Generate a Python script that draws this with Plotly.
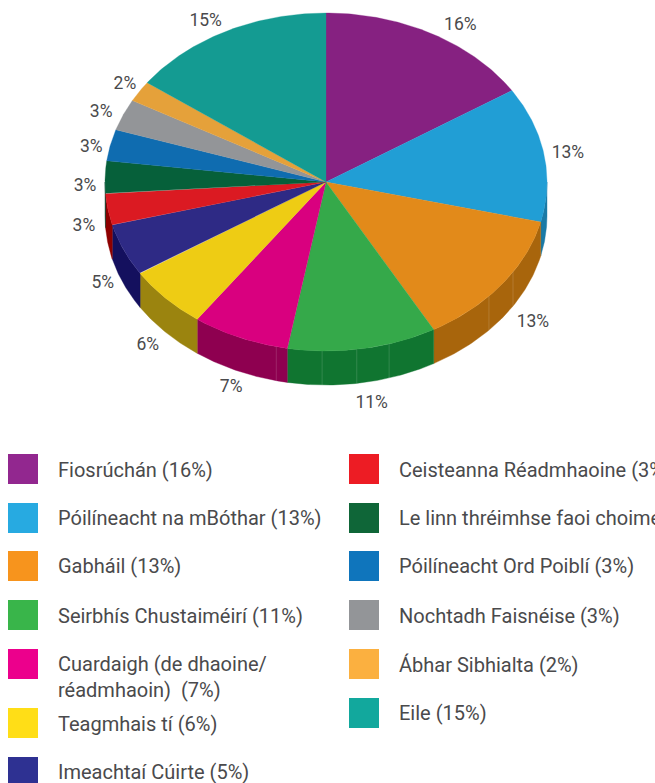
import numpy as np
import plotly.graph_objects as go

# ---- data ----
categories = ["Fiosrúchán", "Póilíneacht na mBóthar", "Gabháil", "Seirbhís Chustaiméirí",
              "Cuardaigh (de dhaoine/<br>réadmhaoin) ", "Teagmhais tí", "Imeachtaí Cúirte",
              "Ceisteanna Réadmhaoine", "Le linn thréimhse faoi choimeád", "Póilíneacht Ord Poiblí",
              "Nochtadh Faisnéise", "Ábhar Sibhialta", "Eile"]
values = [15.9, 12.9, 13.1, 10.9, 7.1, 6, 5, 3, 3.1, 3, 3, 2, 15]

# ---- styling ----
top_colors = ["#862181", "#219ed5", "#e28a1a", "#35a94a", "#d9007f", "#eecc14", "#2e2a85",
              "#db1a22", "#06603a", "#0f6cb0", "#939598", "#e5a13a", "#149b92"]
wall_colors = ["#5c1459", "#1a7aa6", "#a8650c", "#107530", "#8e0050", "#9b840f", "#14105e",
               "#8e0000", "#04402a", "#0a4a7a", "#66686a", "#a07028", "#0d6c66"]
legend_colors = ["#92278f", "#27aae1", "#f7941d", "#39b54a", "#ec008c", "#ffde17", "#2e3192",
                 "#ed1c24", "#0f6638", "#0f75bc", "#939598", "#fbb040", "#12a89d"]
TEXT = "#4a4a4c"
FONT = "Roboto"
CX, CY, RX, RY, DEPTH = 326, 182, 221, 169, 34
wall_seams_deg = [122.2, 132.5, 163.4, 172, 181, 193]
label_dx = [28.5, 24, 31, 9, -9, -18, -21, -24, -20, -19, -22, -14.5, -20]
label_dy = [-8, 0, 38, 55, 50, 47, 34, 17, 9, 2, -2, -7, -10]
legend_col_x = [8] * 7 + [349] * 6
legend_row_y = [454, 503, 551, 600, 649, 708, 757, 454, 503, 551, 600, 649, 698]
legend_text_y = [472, 520, 568, 618, 679, 726, 774, 472, 520, 568, 618, 667, 715]

def rim(deg):
    t = np.radians(deg)
    return CX + RX * np.sin(t), CY - RY * np.cos(t)

fig = go.Figure()
edges = np.concatenate([[0], np.cumsum(values)]) * 360 / sum(values)

# side walls (only the front half of the disc shows)
for i in range(len(values)):
    a, b = max(edges[i], 90), min(edges[i + 1], 270)
    if b <= a:
        continue
    t = np.linspace(a, b, 60)
    x, y = rim(t)
    fig.add_trace(go.Scatter(x=np.r_[x, x[::-1], x[0]], y=np.r_[y, y[::-1] + DEPTH, y[0]],
                             mode="lines", fill="toself", fillcolor=wall_colors[i],
                             line=dict(width=0.4, color=wall_colors[i]), hoverinfo="skip"))
for d in wall_seams_deg:
    x, y = rim(d)
    fig.add_trace(go.Scatter(x=[x, x], y=[y, y + DEPTH], mode="lines",
                             line=dict(width=0.8, color="rgba(255,255,255,0.18)"), hoverinfo="skip"))

# top faces
for i in range(len(values)):
    t = np.linspace(edges[i], edges[i + 1], 80)
    x, y = rim(t)
    fig.add_trace(go.Scatter(x=np.r_[CX, x, CX], y=np.r_[CY, y, CY], mode="lines", fill="toself",
                             fillcolor=top_colors[i], line=dict(width=0.3, color=top_colors[i]),
                             hoverinfo="skip"))

# percent labels
mid = (edges[:-1] + edges[1:]) / 2
ax, ay = rim(mid)
fig.add_trace(go.Scatter(x=ax + np.array(label_dx), y=ay + np.array(label_dy), mode="text",
                         text=[f"{v:.0f}%" for v in values], textposition="middle center",
                         textfont=dict(family=FONT, size=17.5, color=TEXT), hoverinfo="skip"))

# legend
fig.add_trace(go.Scatter(x=np.array(legend_col_x) + 15, y=np.array(legend_row_y) + 15, mode="markers",
                         marker=dict(symbol="square", size=30, color=legend_colors, line=dict(width=0)),
                         hoverinfo="skip"))
fig.add_trace(go.Scatter(x=np.array(legend_col_x) + 50, y=legend_text_y, mode="text",
                         text=[f"{c} ({v:.0f}%)" for c, v in zip(categories, values)],
                         textposition="middle right",
                         textfont=dict(family=FONT, size=20, color=TEXT), hoverinfo="skip"))

fig.update_layout(width=655, height=783, margin=dict(l=0, r=0, t=0, b=0), showlegend=False,
                  paper_bgcolor="white", plot_bgcolor="white",
                  xaxis=dict(range=[0, 655], visible=False, fixedrange=True),
                  yaxis=dict(range=[783, 0], visible=False, fixedrange=True))
fig.write_html("out.html", config=dict(displayModeBar=False),
               post_script="document.body.style.margin='0';document.documentElement.style.overflow='hidden';")
